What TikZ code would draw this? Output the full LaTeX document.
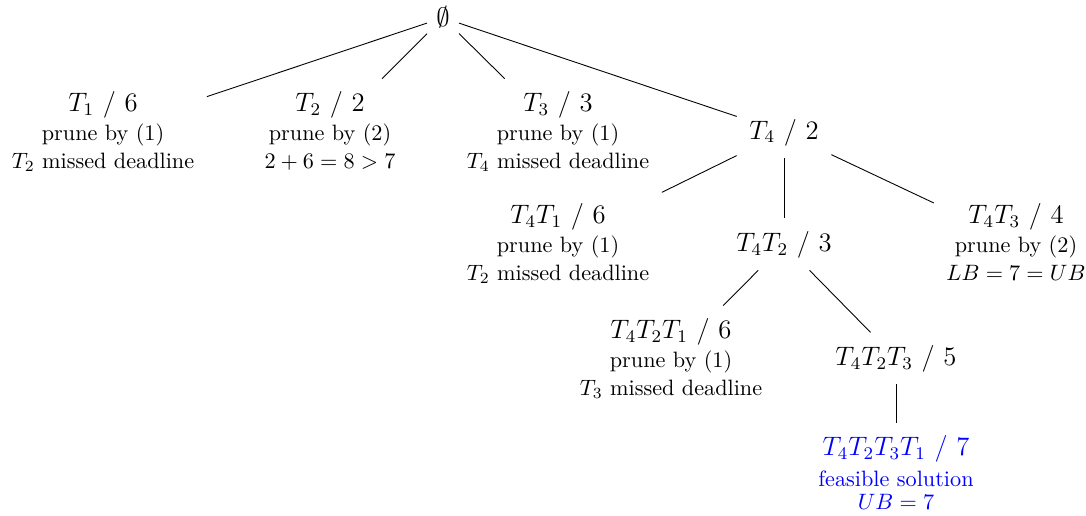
\documentclass[tikz,border=0pt]{standalone}
\begin{document}
\begin{tikzpicture}[x=0.45pt,y=-0.45pt,
  tn/.style={align=center,anchor=base,inner sep=5.5pt,font=\fontsize{10}{12.5}\selectfont},
  rootn/.style={font=\large,inner sep=4pt,anchor=base},
  feas/.style={tn,text=blue},
  edge/.style={draw=black,line width=0.4pt}]
\useasboundingbox (0,0) rectangle (1086,516);
\node[rootn] (r) at (443,27) {$\emptyset$};
\node[tn] (a) at (103,168) {{\large $T_1$ / 6}\\[0.5pt]prune by (1)\\$T_2$ missed deadline};
\node[tn] (b) at (330,168) {{\large $T_2$ / 2}\\[0.5pt]prune by (2)\\$2+6=8>7$};
\node[tn] (c) at (558,168) {{\large $T_3$ / 3}\\[0.5pt]prune by (1)\\$T_4$ missed deadline};
\node[tn] (d) at (784,139) {\large $T_4$ / 2};
\node[tn] (da) at (558,280) {{\large $T_4T_1$ / 6}\\[0.5pt]prune by (1)\\$T_2$ missed deadline};
\node[tn] (db) at (784,251) {\large $T_4T_2$ / 3};
\node[tn] (dc) at (1016,280) {{\large $T_4T_3$ / 4}\\[0.5pt]prune by (2)\\$LB=7=UB$};
\node[tn] (dba) at (671,395) {{\large $T_4T_2T_1$ / 6}\\[0.5pt]prune by (1)\\$T_3$ missed deadline};
\node[tn] (dbc) at (896,365) {\large $T_4T_2T_3$ / 5};
\node[feas] (dbca) at (896,509) {{\large $T_4T_2T_3T_1$ / 7}\\[1.5pt]feasible solution\\[-2.5pt]$UB=7$};
\draw[edge] (r) -- (a);
\draw[edge] (r) -- (b);
\draw[edge] (r) -- (c);
\draw[edge] (r) -- (d);
\draw[edge] (d) -- (da);
\draw[edge] (d) -- (db);
\draw[edge] (d) -- (dc);
\draw[edge] (db) -- (dba);
\draw[edge] (db) -- (dbc);
\draw[edge] (dbc) -- (dbca);
\end{tikzpicture}
\end{document}
